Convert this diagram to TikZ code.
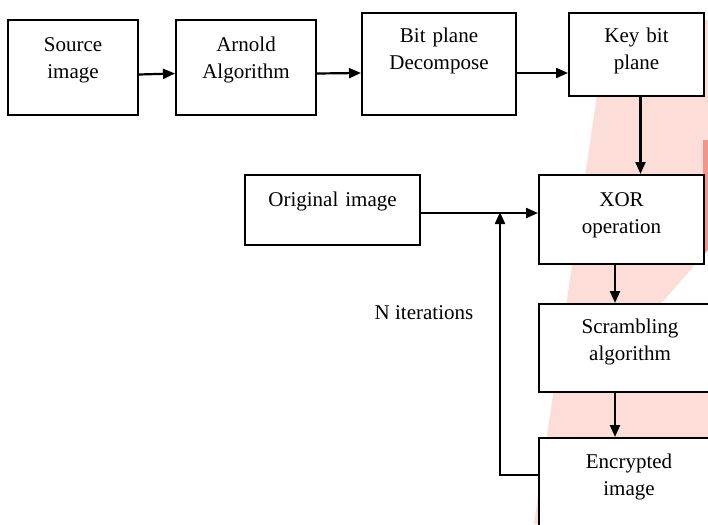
\documentclass[tikz,border=0pt]{standalone}
\usepackage{xcolor}
\usepackage{fontspec}
\setmainfont{Liberation Serif}
\usepackage{tikz}
\usetikzlibrary{arrows.meta}

\definecolor{marcarosa}{RGB}{252,221,215}
\definecolor{marcaroja}{RGB}{243,150,138}

\tikzset{
  caja/.style n args={3}{draw, line width=2pt, fill=white, anchor=north west,
    inner sep=0pt, text width=#1, align=center, text height=#2, text depth=#3,
    font=\fontsize{21pt}{27pt}\selectfont},
  flecha/.style={line width=2.2pt, -{Triangle[length=12pt,width=10pt]}},
  rotulo/.style={font=\fontsize{21pt}{27pt}\selectfont, inner sep=0pt, anchor=base}
}

\begin{document}
\begin{tikzpicture}[x=1pt,y=-1pt]

    % Marco de la figura
    \useasboundingbox (0,0) rectangle (708,524);
    \clip (0,0) rectangle (708,524);

    % Marca de agua rosa
    \fill[marcarosa] (608,20) -- (708,20) -- (708,524) -- (534,524) -- cycle;
    \fill[marcaroja] (703,140) rectangle (708,262);
    \fill[white] (708,250) -- (708,303) -- (662,303) -- cycle;

    % Fila superior
    \node[caja={130pt}{32pt}{63pt}] (src) at (7,19) {Source\\image};
    \node[caja={140pt}{32pt}{63pt}] (arn) at (175,19) {Arnold\\Algorithm};
    \node[caja={154pt}{30pt}{72pt}] (bit) at (361,12) {Bit plane\\Decompose};
    \node[caja={135pt}{30pt}{53pt}] (key) at (568,12) {Key bit\\plane};

    % Columna derecha
    \node[caja={175pt}{31pt}{39pt}] (orig) at (244,174) {Original image};
    \node[caja={165pt}{31pt}{58pt}] (xor) at (538,174) {XOR\\operation};
    \node[caja={182pt}{29pt}{59pt}] (scr) at (538,303) {Scrambling\\algorithm};
    \node[caja={180pt}{30pt}{70pt}] (enc) at (538,437) {Encrypted\\image};

    % Texto del lazo
    \node[rotulo] (iter) at (424,319) {N iterations};
    \coordinate (join) at (500,212);

    % Flechas
    \draw[flecha] ([yshift=-7pt]src.east) -- ([yshift=-6pt]arn.west);
    \draw[flecha] ([yshift=-6pt]arn.east) -- ([yshift=-9pt]bit.west);
    \draw[flecha] ([yshift=-9pt]bit.east) -- ([yshift=-18.5pt]key.west);
    \draw[flecha] ([xshift=4pt]key.south) -- ([xshift=4pt]key.south |- xor.north);
    \draw[flecha] ([yshift=-3pt]orig.east) -- ([yshift=-3pt]orig.east -| xor.west);
    \draw[flecha] ([xshift=-6.5pt]xor.south) -- ([xshift=-6.5pt]xor.south |- scr.north);
    \draw[flecha] ([xshift=-15pt]scr.south) -- ([xshift=-15pt]scr.south |- enc.north);
    \draw[flecha] ([yshift=13pt]enc.west) -| (join);

\end{tikzpicture}
\end{document}
